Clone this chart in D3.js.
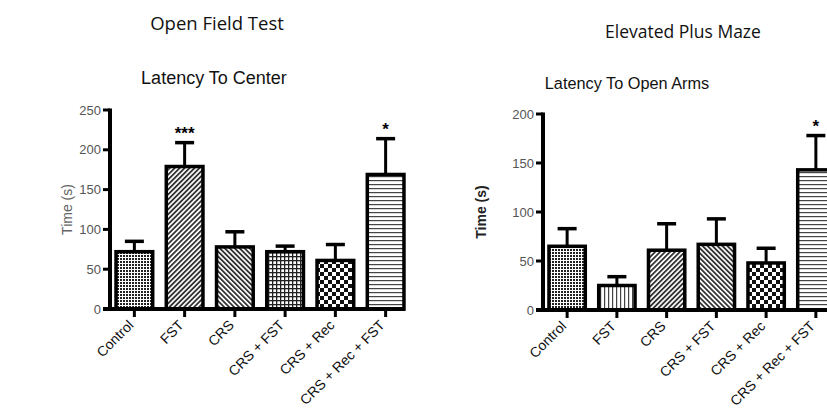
<!DOCTYPE html>
<html>
<head>
<meta charset="utf-8">
<script src="https://cdn.jsdelivr.net/npm/d3@7"></script>
<style>
  body { margin: 0; background: #fff; }
  svg { display: block; }
</style>
</head>
<body>
<svg id="chart" width="827" height="416"></svg>
<script>
const categories = ["Control", "FST", "CRS", "CRS + FST", "CRS + Rec", "CRS + Rec + FST"];

// Open field test - latency to center (s)
const oftMean = [72, 179, 78, 72, 61, 169];
const oftErr  = [13, 30, 19, 7, 20, 45];
const oftStars = ["", "***", "", "", "", "*"];
const oftTicks = [0, 50, 100, 150, 200, 250];

// Elevated plus maze - latency to open arms (s)
const epmMean = [65, 25, 61, 67, 48, 143];
const epmErr  = [18, 9, 27, 26, 15, 35];
const epmStars = ["", "", "", "", "", "*"];
const epmTicks = [0, 50, 100, 150, 200];

const oftFills = ["dots", "diagR", "diagL", "grid", "checker", "hlines"];
const epmFills = ["dots", "vlines", "diagR", "diagL", "checker", "hlines"];

const svg = d3.select("#chart");
const defs = svg.append("defs");

function makePatterns() {
    let p;
    // fine checker
    p = defs.append("pattern").attr("id", "dots").attr("patternUnits", "userSpaceOnUse")
        .attr("width", 3).attr("height", 3);
    p.append("rect").attr("width", 3).attr("height", 3).attr("fill", "#fff");
    p.append("rect").attr("width", 2).attr("height", 2).attr("fill", "#222");
    // diagonal /
    p = defs.append("pattern").attr("id", "diagR").attr("patternUnits", "userSpaceOnUse")
        .attr("width", 3.5).attr("height", 3.5).attr("patternTransform", "rotate(45)");
    p.append("rect").attr("width", 3.5).attr("height", 3.5).attr("fill", "#fff");
    p.append("rect").attr("width", 1.8).attr("height", 3.5).attr("fill", "#333");
    // diagonal \
    p = defs.append("pattern").attr("id", "diagL").attr("patternUnits", "userSpaceOnUse")
        .attr("width", 3.5).attr("height", 3.5).attr("patternTransform", "rotate(-45)");
    p.append("rect").attr("width", 3.5).attr("height", 3.5).attr("fill", "#fff");
    p.append("rect").attr("width", 1.8).attr("height", 3.5).attr("fill", "#333");
    // grid
    p = defs.append("pattern").attr("id", "grid").attr("patternUnits", "userSpaceOnUse")
        .attr("width", 4).attr("height", 4);
    p.append("rect").attr("width", 4).attr("height", 4).attr("fill", "#fff");
    p.append("rect").attr("width", 1.3).attr("height", 4).attr("fill", "#222");
    p.append("rect").attr("width", 4).attr("height", 1.3).attr("fill", "#222");
    // big checkerboard
    p = defs.append("pattern").attr("id", "checker").attr("patternUnits", "userSpaceOnUse")
        .attr("width", 8).attr("height", 8);
    p.append("rect").attr("width", 8).attr("height", 8).attr("fill", "#fff");
    p.append("rect").attr("width", 4).attr("height", 4).attr("fill", "#111");
    p.append("rect").attr("x", 4).attr("y", 4).attr("width", 4).attr("height", 4).attr("fill", "#111");
    // horizontal lines
    p = defs.append("pattern").attr("id", "hlines").attr("patternUnits", "userSpaceOnUse")
        .attr("width", 4).attr("height", 4);
    p.append("rect").attr("width", 4).attr("height", 4).attr("fill", "#fff");
    p.append("rect").attr("width", 4).attr("height", 1.2).attr("fill", "#444");
    // vertical lines
    p = defs.append("pattern").attr("id", "vlines").attr("patternUnits", "userSpaceOnUse")
        .attr("width", 4).attr("height", 4);
    p.append("rect").attr("width", 4).attr("height", 4).attr("fill", "#fff");
    p.append("rect").attr("width", 1.2).attr("height", 4).attr("fill", "#444");
}
makePatterns();

const axisLayer = [];

function drawPanel(opt) {
    const g = svg.append("g");

    const y = d3.scaleLinear().domain([0, opt.max]).range([opt.y0, opt.yTop]);
    const x = d3.scaleBand().domain(categories)
        .range([opt.x0, opt.x0 + opt.step * categories.length])
        .paddingInner(0.27).paddingOuter(0.12);
    const cx = d => x(d) + x.bandwidth() / 2;

    // bars
    g.selectAll("rect.bar").data(categories).enter().append("rect")
        .attr("class", "bar")
        .attr("x", d => x(d))
        .attr("y", (d, i) => y(opt.mean[i]))
        .attr("width", x.bandwidth())
        .attr("height", (d, i) => y(0) - y(opt.mean[i]))
        .attr("fill", (d, i) => "url(#" + opt.fills[i] + ")")
        .attr("stroke", "#000").attr("stroke-width", 3.5);

    // error bars (upper only)
    const eb = g.selectAll("g.err").data(categories).enter().append("g").attr("class", "err");
    eb.append("line")
        .attr("x1", cx).attr("x2", cx)
        .attr("y1", (d, i) => y(opt.mean[i])).attr("y2", (d, i) => y(opt.mean[i] + opt.err[i]))
        .attr("stroke", "#000").attr("stroke-width", 3);
    eb.append("line")
        .attr("x1", d => cx(d) - 9.5).attr("x2", d => cx(d) + 9.5)
        .attr("y1", (d, i) => y(opt.mean[i] + opt.err[i])).attr("y2", (d, i) => y(opt.mean[i] + opt.err[i]))
        .attr("stroke", "#000").attr("stroke-width", 3.5);
    eb.append("text")
        .attr("x", cx)
        .attr("y", (d, i) => y(opt.mean[i] + opt.err[i]) - 4)
        .attr("text-anchor", "middle")
        .style("font", "bold 17px 'Liberation Sans', Arial, sans-serif")
        .text((d, i) => opt.stars[i]);

    // y axis labels
    const ya = g.append("g").attr("transform", "translate(" + opt.x0 + ",0)")
        .call(d3.axisLeft(y).tickValues(opt.ticks).tickSize(7).tickPadding(2));
    ya.select(".domain").remove();
    ya.selectAll(".tick line").remove();
    ya.selectAll("text").attr("fill", "#555")
        .style("font", "13px 'Liberation Sans', Arial, sans-serif");

    // x axis labels
    const xa = g.append("g").attr("transform", "translate(0," + opt.y0 + ")")
        .call(d3.axisBottom(x).tickSize(6).tickSizeOuter(0));
    xa.select(".domain").remove();
    xa.selectAll(".tick line").remove();
    xa.selectAll("text")
        .attr("fill", "#111")
        .style("font", "14px 'Liberation Sans', Arial, sans-serif")
        .attr("text-anchor", "end")
        .attr("y", 0).attr("dy", 0)
        .attr("transform", "translate(0,17) rotate(-45)");

    // axis title
    g.append("text")
        .attr("transform", "translate(" + opt.ylabX + "," + ((opt.y0 + opt.yTop) / 2) + ") rotate(-90)")
        .attr("text-anchor", "middle")
        .attr("fill", opt.ylabColor)
        .style("font", opt.ylabFont)
        .text("Time (s)");

    // titles
    g.append("text").attr("x", opt.titleX).attr("y", opt.titleY)
        .attr("text-anchor", "middle").attr("fill", "#111")
        .style("font", opt.titleSize + " 'Open Sans', 'Noto Sans', sans-serif")
        .text(opt.title);
    g.append("text").attr("x", opt.subX).attr("y", opt.subY)
        .attr("text-anchor", "middle").attr("fill", "#111")
        .style("font", opt.subSize + " 'Liberation Sans Narrow', 'Liberation Sans', sans-serif")
        .text(opt.subtitle);

    axisLayer.push({ opt: opt, x: x, y: y, cx: cx });
}

// heavy axis lines, drawn last on top of everything, from each panel's scales
function drawAxes() {
    const top = svg.append("g").attr("class", "axes");
    axisLayer.forEach(a => {
        const o = a.opt;
        top.selectAll(null).data(o.ticks).enter().append("path")
            .attr("d", d => "M" + (o.x0 - 7) + "," + a.y(d) + "H" + o.x0)
            .attr("stroke", "#000").attr("stroke-width", 3).attr("fill", "none");
        top.selectAll(null).data(categories).enter().append("path")
            .attr("d", d => "M" + a.cx(d) + "," + o.y0 + "V" + (o.y0 + 8))
            .attr("stroke", "#000").attr("stroke-width", 3).attr("fill", "none");
        top.append("path")
            .attr("d", "M" + o.x0 + "," + (a.y(o.max) - 1.5) + "V" + (a.y(0) + 2)
                + "M" + (o.x0 - 7) + "," + a.y(0) + "H" + o.xEnd)
            .attr("stroke", "#000").attr("stroke-width", 4).attr("fill", "none");
    });
}

drawPanel({
    mean: oftMean, err: oftErr, stars: oftStars, ticks: oftTicks, fills: oftFills,
    max: 250, x0: 110, y0: 309, yTop: 110, step: 50, xEnd: 405,
    ylabX: 72, ylabColor: "#666", ylabFont: "14px 'Liberation Sans', Arial, sans-serif",
    title: "Open Field Test", titleX: 217, titleY: 30, titleSize: "18.5px",
    subtitle: "Latency To Center", subX: 214, subY: 84, subSize: "18px"
});

drawPanel({
    mean: epmMean, err: epmErr, stars: epmStars, ticks: epmTicks, fills: epmFills,
    max: 200, x0: 543, y0: 310, yTop: 114, step: 49.5, xEnd: 840,
    ylabX: 486, ylabColor: "#222", ylabFont: "bold 14px 'Liberation Sans', Arial, sans-serif",
    title: "Elevated Plus Maze", titleX: 683, titleY: 38, titleSize: "17.5px",
    subtitle: "Latency To Open Arms", subX: 627, subY: 89, subSize: "16.3px"
});

drawAxes();
</script>
</body>
</html>
